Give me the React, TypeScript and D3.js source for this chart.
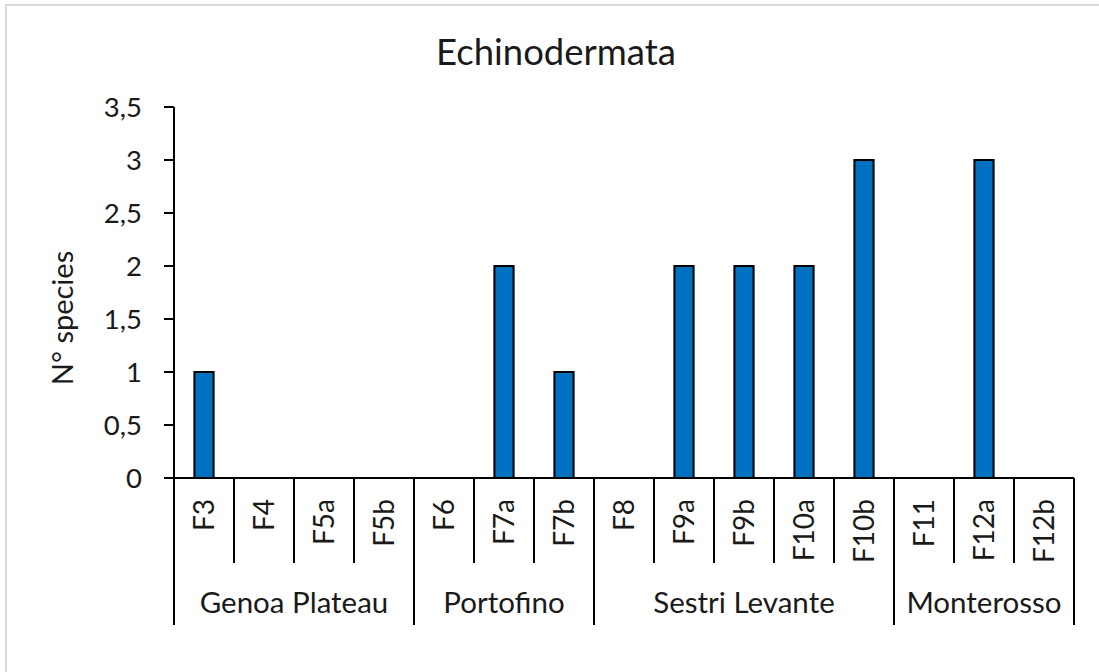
import { scaleBand, scaleLinear, range } from 'd3';

const categories = ['F3', 'F4', 'F5a', 'F5b', 'F6', 'F7a', 'F7b', 'F8', 'F9a', 'F9b', 'F10a', 'F10b', 'F11', 'F12a', 'F12b'];
const speciesCount = [1, 0, 0, 0, 0, 2, 1, 0, 2, 2, 2, 3, 0, 3, 0];
const groups = ['Genoa Plateau', 'Portofino', 'Sestri Levante', 'Monterosso'];
const groupSizes = [4, 3, 5, 3];
const yTicks = [0, 0.5, 1, 1.5, 2, 2.5, 3, 3.5];

const width = 1099;
const height = 672;
const plot = { left: 174, right: 1074, top: 107, bottom: 478 };
const font = 'Lato, "Open Sans", sans-serif';

function App() {
  const xScale = scaleBand()
    .domain(categories)
    .range([plot.left, plot.right]);

  const yScale = scaleLinear()
    .domain([0, 3.5])
    .range([plot.bottom, plot.top]);

  const bw = xScale.bandwidth();
  const barWidth = bw * 0.32;

  // group start indices
  const starts = groupSizes.map((_, i) => groupSizes.slice(0, i).reduce((a, b) => a + b, 0));
  const groupBreaks = new Set([...starts, categories.length]);

  const edgeX = (i: number) => (i < categories.length ? xScale(categories[i]) : plot.right);

  return (
    <svg
      width={width}
      height={height}
      style={{ position: 'absolute', left: 0, top: 0, background: '#fff' }}
      fontFamily={font}
    >
      <rect x={6} y={5} width={width + 10} height={height + 10} fill='#fff' stroke='#d9d9d9' strokeWidth={2} />

      <text x={556} y={65} textAnchor='middle' fontSize={36.5} fill='#1a1a1a'>Echinodermata</text>

      {/* y axis */}
      <line x1={plot.left} x2={plot.left} y1={plot.top} y2={plot.bottom} stroke='#000' strokeWidth={2} />
      {yTicks.map(t => (
        <g key={t} transform={`translate(0, ${yScale(t)})`}>
          <line x1={plot.left - 10} x2={plot.left} stroke='#000' strokeWidth={2} />
          <text x={142} dy='.36em' textAnchor='end' fontSize={27.5} fill='#1a1a1a'>
            {String(t).replace('.', ',')}
          </text>
        </g>
      ))}
      <text
        transform={`translate(73, 318) rotate(-90)`}
        textAnchor='middle'
        fontSize={29}
        fill='#1a1a1a'
      >
        N° species
      </text>

      {/* bars */}
      {categories.map((c, i) => (
        <rect
          key={c}
          x={xScale(c)! + bw / 2 - barWidth / 2}
          y={yScale(speciesCount[i])}
          width={barWidth}
          height={plot.bottom - yScale(speciesCount[i])}
          fill='#0070c0'
          stroke='#000'
          strokeWidth={2}
          visibility={speciesCount[i] > 0 ? 'visible' : 'hidden'}
        />
      ))}

      {/* x axis */}
      <line x1={plot.left - 10} x2={plot.right} y1={plot.bottom} y2={plot.bottom} stroke='#000' strokeWidth={2} />
      {range(categories.length + 1).map(i => (
        <line
          key={i}
          x1={edgeX(i)}
          x2={edgeX(i)}
          y1={plot.bottom}
          y2={groupBreaks.has(i) ? 625 : 563}
          stroke='#000'
          strokeWidth={2}
        />
      ))}
      {categories.map(c => (
        <text
          key={c}
          transform={`translate(${xScale(c)! + bw / 2}, 499) rotate(-90)`}
          textAnchor='end'
          dy='.36em'
          fontSize={28}
          fill='#1a1a1a'
        >
          {c}
        </text>
      ))}
      {groups.map((g, i) => {
        const x0 = edgeX(starts[i]);
        const x1 = edgeX(starts[i] + groupSizes[i]);
        return (
          <text key={g} x={(x0 + x1) / 2} y={613} textAnchor='middle' fontSize={29.5} fill='#1a1a1a'>
            {g}
          </text>
        );
      })}
    </svg>
  );
}

export default App;
